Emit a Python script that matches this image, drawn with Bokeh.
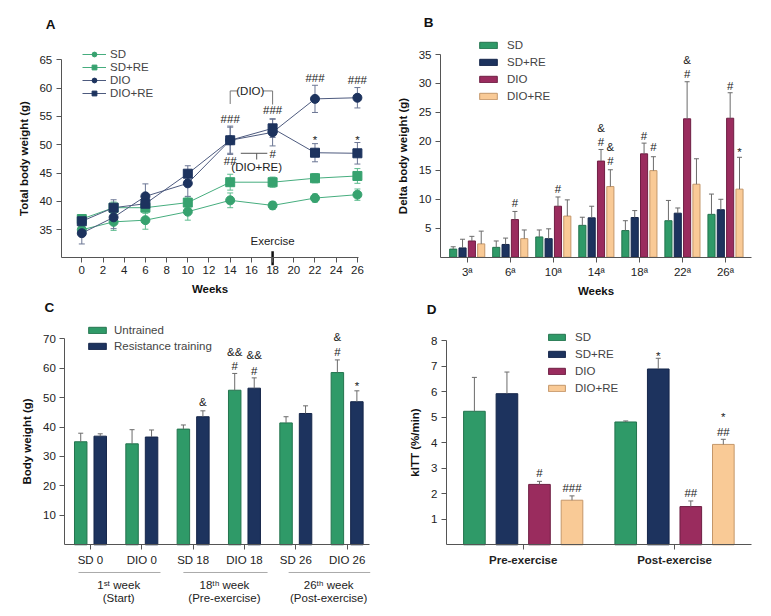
from bokeh.plotting import figure
from bokeh.layouts import gridplot
from bokeh.models import Range1d, FixedTicker, Legend, LegendItem
from bokeh.core.properties import value
from bokeh.embed import file_html
from bokeh.resources import INLINE

FONT = "Liberation Sans"
GREEN = "#2f9a68"
GREEN_L = "#37a26f"
NAVY = "#1d335e"
MAROON = "#9a2c5e"
PEACH = "#f9ca96"
ERR = "#6b6b6b"

# ---------------- Panel A data ----------------
weeks = [0, 3, 6, 10, 14, 18, 22, 26]
week_ticks = [0, 2, 4, 6, 8, 10, 12, 14, 16, 18, 20, 22, 24, 26]
a_yticks = [35, 40, 45, 50, 55, 60, 65]
a_sd = [35.0, 36.4, 36.7, 38.2, 40.2, 39.3, 40.6, 41.2]
a_sd_err = [0.6, 1.5, 1.6, 1.5, 1.3, 0.7, 0.7, 1.0]
a_sdre = [36.9, 38.9, 38.9, 39.8, 43.4, 43.4, 44.1, 44.5]
a_sdre_err = [0.5, 1.0, 1.0, 1.0, 1.4, 0.9, 0.8, 1.3]
a_dio = [34.4, 37.2, 40.9, 43.2, 50.8, 52.2, 58.1, 58.3]
a_dio_err = [1.9, 2.0, 2.2, 2.3, 2.5, 2.4, 2.4, 1.8]
a_diore = [36.5, 38.9, 39.6, 44.9, 50.8, 52.9, 48.6, 48.5]
a_diore_err = [0.8, 1.4, 1.0, 1.4, 2.3, 1.6, 1.6, 1.9]
a_note_x = [14, 18, 22, 26, 14, 18]
a_note_y = [54.6, 56.1, 61.8, 61.5, 47.2, 48.4]
a_note_t = ["###", "###", "###", "###", "##", "#"]
a_star_x = [22, 26]
a_star_y = [51.4, 51.4]

# ---------------- Panel B data ----------------
b_weeks = ["3ª", "6ª", "10ª", "14ª", "18ª", "22ª", "26ª"]
b_yticks = [5, 10, 15, 20, 25, 30, 35]
b_sd = [1.4, 1.7, 3.5, 5.5, 4.6, 6.3, 7.4]
b_sd_err = [0.4, 1.1, 1.2, 1.4, 1.7, 3.5, 3.5]
b_sdre = [1.6, 2.2, 3.2, 6.8, 6.85, 7.6, 8.2]
b_sdre_err = [1.5, 1.1, 1.7, 2.0, 1.2, 0.9, 1.8]
b_dio = [2.8, 6.5, 8.8, 16.6, 17.85, 23.9, 24.0]
b_dio_err = [0.8, 1.4, 1.6, 2.0, 1.85, 6.4, 4.4]
b_diore = [2.3, 3.2, 7.1, 12.2, 14.95, 12.6, 11.75]
b_diore_err = [2.2, 1.5, 2.8, 2.9, 2.4, 4.4, 5.5]
b_note_group = [1, 2, 3, 3, 3, 3, 4, 4, 5, 5, 6, 6]
b_note_series = [2, 2, 2, 2, 3, 3, 2, 3, 2, 2, 2, 3]
b_note_y = [9.3, 11.8, 19.9, 22.3, 16.6, 19.0, 21.0, 19.0, 31.7, 34.0, 29.6, 18.6]
b_note_t = ["#", "#", "#", "&", "#", "&", "#", "#", "#", "&", "#", "*"]

# ---------------- Panel C data ----------------
c_groups = ["SD 0", "DIO 0", "SD 18", "DIO 18", "SD 26", "DIO 26"]
c_yticks = [10, 20, 30, 40, 50, 60, 70]
c_untrained = [35.0, 34.3, 39.3, 52.5, 41.4, 58.5]
c_untrained_err = [2.9, 4.8, 1.4, 5.7, 2.1, 4.3]
c_trained = [36.9, 36.6, 43.5, 53.2, 44.6, 48.6]
c_trained_err = [0.8, 2.4, 2.0, 3.5, 2.6, 3.7]
c_periods = ["1ˢᵗ week", "18ᵗʰ week", "26ᵗʰ week"]
c_period_sub = ["(Start)", "(Pre-exercise)", "(Post-exercise)"]
c_note_group = [2, 3, 3, 3, 3, 5, 5, 5]
c_note_series = [1, 0, 0, 1, 1, 0, 0, 1]
c_note_y = [48.5, 60.6, 65.5, 59.2, 64.3, 65.5, 70.6, 55.0]
c_note_t = ["&", "#", "&&", "#", "&&", "#", "&", "*"]

# ---------------- Panel D data ----------------
d_phase = ["Pre-exercise", "Post-exercise"]
d_yticks = [1, 2, 3, 4, 5, 6, 7, 8]
d_sd = [5.24, 4.82]
d_sd_err = [1.33, 0.04]
d_sdre = [5.93, 6.90]
d_sdre_err = [0.85, 0.42]
d_dio = [2.37, 1.50]
d_dio_err = [0.12, 0.22]
d_diore = [1.75, 3.94]
d_diore_err = [0.17, 0.20]
d_note_group = [0, 0, 1, 1, 1, 1]
d_note_series = [2, 3, 1, 2, 3, 3]
d_note_y = [2.81, 2.22, 7.54, 2.05, 4.43, 5.12]
d_note_t = ["#", "###", "*", "##", "##", "*"]

series_names = ["SD", "SD+RE", "DIO", "DIO+RE"]
bar_fill = [GREEN, NAVY, MAROON, PEACH]
bar_line = ["#23744e", "#15264a", "#6e1e43", "#c4976a"]
FS = "11.5px"


def make_fig(w, h, xr, yr):
    p = figure(width=w, height=h, x_range=Range1d(*xr), y_range=Range1d(*yr),
               output_backend="svg", toolbar_location=None, title=None,
               min_border_left=0, min_border_right=0, min_border_top=0, min_border_bottom=0)
    p.xgrid.grid_line_color = None
    p.ygrid.grid_line_color = None
    p.outline_line_color = None
    return p


def style(p, xloc, xbounds, yloc, ybounds):
    p.xaxis.fixed_location = xloc
    p.xaxis.bounds = xbounds
    p.yaxis.fixed_location = yloc
    p.yaxis.bounds = ybounds
    for ax in list(p.xaxis) + list(p.yaxis):
        ax.axis_line_color = "#555555"
        ax.major_tick_line_color = "#555555"
        ax.minor_tick_line_color = None
        ax.major_tick_in = 0
        ax.major_tick_out = 5
        ax.major_label_standoff = 4
        ax.major_label_text_font = FONT
        ax.major_label_text_font_size = FS
        ax.major_label_text_color = "#222222"
        ax.axis_label_text_font = FONT
        ax.axis_label_text_font_size = FS
        ax.axis_label_text_font_style = "bold"
        ax.axis_label_text_color = "#111111"
        ax.axis_label_standoff = 7


def txt(p, xs, ys, ts, size=FS, style_="normal", yoff=0, color="#222222"):
    p.text(x=xs, y=ys, text=ts, text_font=value(FONT), text_font_size=size,
           text_font_style=style_, text_align="center", text_baseline="middle",
           text_color=color, y_offset=yoff)


def notes(p, xs, ys, ts):
    stars = [i for i, t in enumerate(ts) if t == "*"]
    other = [i for i, t in enumerate(ts) if t != "*"]
    if other:
        txt(p, [xs[i] for i in other], [ys[i] for i in other], [ts[i] for i in other])
    if stars:
        txt(p, [xs[i] for i in stars], [ys[i] for i in stars], [ts[i] for i in stars], yoff=3)


def bars(p, xs, tops, errs, width, fill, line):
    r = p.vbar(x=xs, top=tops, bottom=0, width=width, fill_color=fill, line_color=line, line_width=1)
    ups = [t + e for t, e in zip(tops, errs)]
    p.segment(x0=xs, y0=tops, x1=xs, y1=ups, line_color=ERR, line_width=1)
    p.scatter(x=xs, y=ups, marker="dash", size=5, line_color=ERR, line_width=1)
    return r


def legend(p, items, loc, gw, gh, lh, standoff):
    lg = Legend(items=items, location=loc, glyph_width=gw, glyph_height=gh, label_height=lh,
                spacing=0, padding=0, margin=0, label_standoff=standoff, label_text_font=FONT,
                label_text_font_size=FS, border_line_color=None, background_fill_alpha=0)
    p.add_layout(lg)


# =============== Panel A ===============
pA = make_fig(390, 299, (-7.670, 29.123), (22.70, 75.46))
style(pA, 30.16, (-1.94, 26.1), -1.94, (30.16, 65))
pA.xaxis.axis_label_standoff = 5
pA.xaxis.ticker = FixedTicker(ticks=week_ticks)
pA.yaxis.ticker = FixedTicker(ticks=a_yticks)
pA.xaxis.axis_label = "Weeks"
pA.yaxis.axis_label = "Total body weight (g)"

a_series = [(a_sd, a_sd_err, "circle", GREEN_L, "#46ad7e", "#5dbb8e"),
            (a_sdre, a_sdre_err, "square", GREEN_L, "#46ad7e", "#5dbb8e"),
            (a_dio, a_dio_err, "circle", NAVY, "#4d5a7e", "#6b7694"),
            (a_diore, a_diore_err, "square", NAVY, "#4d5a7e", "#6b7694")]
for vals, errs, mk, col, lcol, ecol in a_series:
    lo = [v - e for v, e in zip(vals, errs)]
    hi = [v + e for v, e in zip(vals, errs)]
    pA.segment(x0=weeks, y0=lo, x1=weeks, y1=hi, line_color=ecol, line_width=1)
    pA.scatter(x=weeks, y=lo, marker="dash", size=6, line_color=ecol, line_width=1)
    pA.scatter(x=weeks, y=hi, marker="dash", size=6, line_color=ecol, line_width=1)
a_items = []
for name, (vals, errs, mk, col, lcol, ecol) in zip(series_names, a_series):
    ln = pA.line(x=weeks, y=vals, line_color=lcol, line_width=1)
    sc = pA.scatter(x=weeks, y=vals, marker=mk, size=9, fill_color=col, line_color=col)
    a_items.append(LegendItem(label=name, renderers=[ln, sc]))

notes(pA, a_note_x, a_note_y, a_note_t)
notes(pA, a_star_x, a_star_y, ["*"] * len(a_star_x))
# (DIO) bracket
pA.segment(x0=[14, 17.1, 14, 18], y0=[59.5, 59.5, 59.5, 59.5], x1=[14.7, 18, 14, 18],
           y1=[59.5, 59.5, 57.2, 57.1], line_color="#777777", line_width=1)
txt(pA, [15.9], [59.5], ["(DIO)"])
# (DIO+RE) bracket
pA.segment(x0=[15.0, 16.5], y0=[48.5, 48.5], x1=[17.5, 16.5], y1=[48.5, 47.4],
           line_color="#555555", line_width=1)
txt(pA, [16.5], [46.0], ["(DIO+RE)"])
txt(pA, [18], [33.0], ["Exercise"])
pA.segment(x0=[18], y0=[31.2], x1=[18], y1=[28.75], line_color="#111111", line_width=2.5)
legend(pA, a_items, (82, 200), 24, 12, 13, 4)
txt(pA, [-2.95], [71.23], ["A"], size="13.5px", style_="bold", color="#111111")

# =============== Panel B ===============
pB = make_fig(373, 299, (-1.782, 6.883), (-7.306, 44.33))
style(pB, 0, (-0.62, 6.597), -0.62, (0, 35))
pB.xaxis.axis_label_standoff = 3
b_idx = list(range(len(b_weeks)))
pB.xaxis.ticker = FixedTicker(ticks=b_idx)
pB.xaxis.major_label_overrides = {i: w for i, w in zip(b_idx, b_weeks)}
pB.yaxis.ticker = FixedTicker(ticks=b_yticks)
pB.xaxis.axis_label = "Weeks"
pB.yaxis.axis_label = "Delta body weight (g)"
B_STEP, B_W = 0.217, 0.165
b_items = []
for k, (vals, errs) in enumerate([(b_sd, b_sd_err), (b_sdre, b_sdre_err), (b_dio, b_dio_err), (b_diore, b_diore_err)]):
    xs = [i + (k - 1.5) * B_STEP for i in b_idx]
    r = bars(pB, xs, vals, errs, B_W, bar_fill[k], bar_line[k])
    b_items.append(LegendItem(label=series_names[k], renderers=[r]))
notes(pB, [g + (s - 1.5) * B_STEP for g, s in zip(b_note_group, b_note_series)], b_note_y, b_note_t)
legend(pB, b_items, (87, 195), 22, 8, 17, 8)
txt(pB, [-0.899], [40.54], ["B"], size="13.5px", style_="bold", color="#111111")

# =============== Panel C ===============
pC = make_fig(390, 309, (-1.753, 5.845), (-21.64, 83.32))
style(pC, 0, (-0.5, 5.44), -0.5, (0, 70))
c_idx = list(range(len(c_groups)))
pC.xaxis.ticker = FixedTicker(ticks=c_idx)
pC.xaxis.major_label_overrides = {i: g for i, g in zip(c_idx, c_groups)}
pC.yaxis.ticker = FixedTicker(ticks=c_yticks)
pC.yaxis.axis_label = "Body weight (g)"
C_OFF, C_W = 0.19, 0.243
c_items = []
for k, (vals, errs, lab, fill, line) in enumerate([
        (c_untrained, c_untrained_err, "Untrained", GREEN, bar_line[0]),
        (c_trained, c_trained_err, "Resistance training", NAVY, bar_line[1])]):
    xs = [i + (k - 0.5) * 2 * C_OFF for i in c_idx]
    r = bars(pC, xs, vals, errs, C_W, fill, line)
    c_items.append(LegendItem(label=lab, renderers=[r]))
notes(pC, [g + (s - 0.5) * 2 * C_OFF for g, s in zip(c_note_group, c_note_series)], c_note_y, c_note_t)
legend(pC, c_items, (86, 254), 22, 8, 16, 6)
pC.segment(x0=[-0.234, 1.81, 3.86], y0=[-9.41] * 3, x1=[1.364, 3.45, 5.45], y1=[-9.41] * 3,
           line_color="#aaaaaa", line_width=1)
txt(pC, [0.55, 2.61, 4.64], [-13.5] * 3, c_periods)
txt(pC, [0.55, 2.61, 4.64], [-18.2] * 3, c_period_sub)
txt(pC, [-0.799], [80.6], ["C"], size="13.5px", style_="bold", color="#111111")

# =============== Panel D ===============
pD = make_fig(373, 309, (-0.877, 1.588), (-2.5, 9.627))
style(pD, 0, (-0.507, 1.509), -0.507, (0, 8))
d_idx = list(range(len(d_phase)))
pD.xaxis.ticker = FixedTicker(ticks=d_idx)
pD.xaxis.major_label_overrides = {i: g for i, g in zip(d_idx, d_phase)}
pD.xaxis.major_label_text_font_style = "bold"
pD.yaxis.ticker = FixedTicker(ticks=d_yticks)
pD.yaxis.axis_label = "kITT (%/min)"
D_STEP, D_W = 0.215, 0.143
d_items = []
for k, (vals, errs) in enumerate([(d_sd, d_sd_err), (d_sdre, d_sdre_err), (d_dio, d_dio_err), (d_diore, d_diore_err)]):
    xs = [i + (k - 1.5) * D_STEP for i in d_idx]
    r = bars(pD, xs, vals, errs, D_W, bar_fill[k], bar_line[k])
    d_items.append(LegendItem(label=series_names[k], renderers=[r]))
notes(pD, [g + (s - 1.5) * D_STEP for g, s in zip(d_note_group, d_note_series)], d_note_y, d_note_t)
legend(pD, d_items, (156, 212), 21, 8, 17, 8)
txt(pD, [-0.606], [9.235], ["D"], size="13.5px", style_="bold", color="#111111")

grid = gridplot([[pA, pB], [pC, pD]], toolbar_location=None)
open("out.html", "w").write(file_html(grid, INLINE))
